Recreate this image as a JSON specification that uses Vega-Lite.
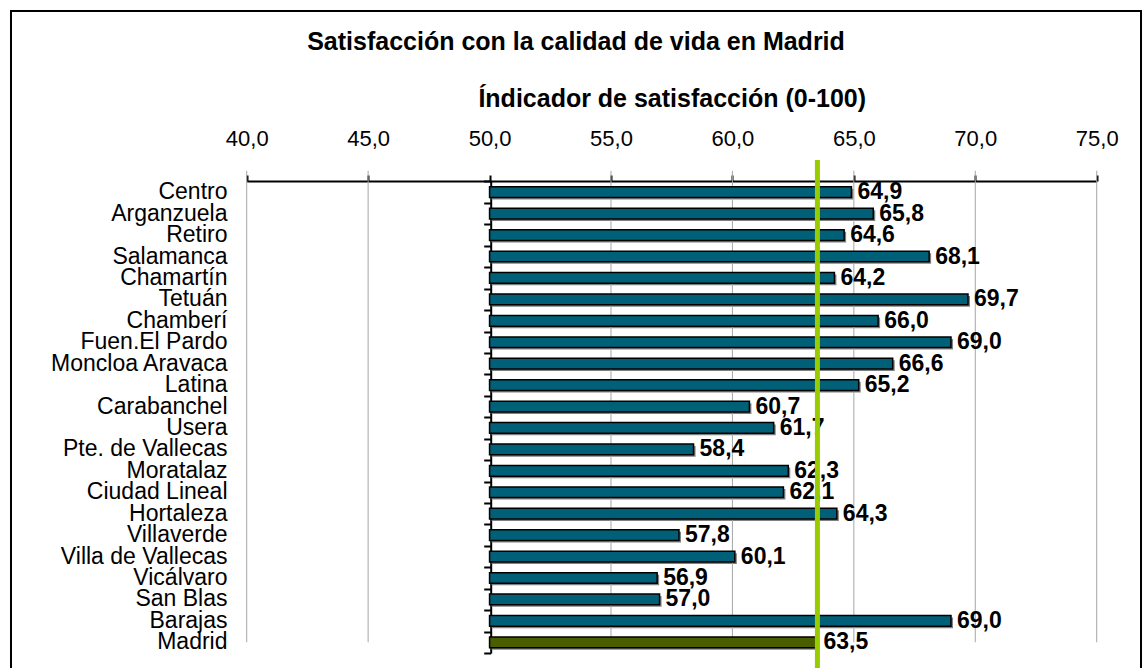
{
  "$schema": "https://vega.github.io/schema/vega-lite/v6.json",
  "width": 1130,
  "height": 662,
  "autosize": "none",
  "padding": {"left": 11, "top": 11, "right": 2, "bottom": 0},
  "config": {
    "view": {"stroke": "black", "strokeWidth": 2},
    "font": "Liberation Sans",
    "locale": {"number": {"decimal": ",", "thousands": ".", "grouping": [3], "currency": ["", " €"]}}
  },
  "title": {
    "text": "Satisfacción con la calidad de vida en Madrid",
    "anchor": "middle",
    "frame": "bounds",
    "offset": -56,
    "baseline": "middle",
    "fontSize": 25,
    "fontWeight": "bold",
    "font": "Liberation Sans",
    "color": "black"
  },
  "datasets": {
    "grid": [{"v": 40}, {"v": 45}, {"v": 55}, {"v": 60}, {"v": 65}, {"v": 70}, {"v": 75}]
  },
  "data": {
    "values": [
      {"distrito": "Centro", "valor": 64.9, "tipo": "distrito"},
      {"distrito": "Arganzuela", "valor": 65.8, "tipo": "distrito"},
      {"distrito": "Retiro", "valor": 64.6, "tipo": "distrito"},
      {"distrito": "Salamanca", "valor": 68.1, "tipo": "distrito"},
      {"distrito": "Chamartín", "valor": 64.2, "tipo": "distrito"},
      {"distrito": "Tetuán", "valor": 69.7, "tipo": "distrito"},
      {"distrito": "Chamberí", "valor": 66.0, "tipo": "distrito"},
      {"distrito": "Fuen.El Pardo", "valor": 69.0, "tipo": "distrito"},
      {"distrito": "Moncloa Aravaca", "valor": 66.6, "tipo": "distrito"},
      {"distrito": "Latina", "valor": 65.2, "tipo": "distrito"},
      {"distrito": "Carabanchel", "valor": 60.7, "tipo": "distrito"},
      {"distrito": "Usera", "valor": 61.7, "tipo": "distrito"},
      {"distrito": "Pte. de Vallecas", "valor": 58.4, "tipo": "distrito"},
      {"distrito": "Moratalaz", "valor": 62.3, "tipo": "distrito"},
      {"distrito": "Ciudad Lineal", "valor": 62.1, "tipo": "distrito"},
      {"distrito": "Hortaleza", "valor": 64.3, "tipo": "distrito"},
      {"distrito": "Villaverde", "valor": 57.8, "tipo": "distrito"},
      {"distrito": "Villa de Vallecas", "valor": 60.1, "tipo": "distrito"},
      {"distrito": "Vicálvaro", "valor": 56.9, "tipo": "distrito"},
      {"distrito": "San Blas", "valor": 57.0, "tipo": "distrito"},
      {"distrito": "Barajas", "valor": 69.0, "tipo": "distrito"},
      {"distrito": "Madrid", "valor": 63.5, "tipo": "total"}
    ]
  },
  "resolve": {"axis": {"y": "independent"}},
  "layer": [
    {
      "mark": {"type": "bar", "height": {"band": 0.5}, "fill": "#808080", "xOffset": 2, "x2Offset": 2, "yOffset": 2, "y2Offset": 2},
      "encoding": {
        "x": {
          "field": "valor", "type": "quantitative",
          "scale": {"domain": [40, 75], "range": [235.7, 1085.7], "nice": false, "zero": false},
          "axis": {
            "orient": "top", "offset": -170, "values": [40, 45, 50, 55, 60, 65, 70, 75], "format": ".1f",
            "title": "Índicador de satisfacción (0-100)", "titleFontSize": 25, "titleFontWeight": "bold", "titleColor": "black", "titlePadding": 16,
            "labelFontSize": 22, "labelColor": "black", "labelPadding": 25, "labelOverlap": false, "labelFlush": false,
            "tickSize": 6, "tickColor": "black", "tickWidth": 2, "domainColor": "black", "domainWidth": 2,
            "grid": false
          }
        },
        "x2": {"datum": 50},
        "y": {
          "field": "distrito", "type": "nominal", "sort": null,
          "scale": {"range": [170.5, 642], "paddingInner": 0, "paddingOuter": 0},
          "axis": {"orient": "left", "offset": -479.7, "labels": false, "domain": true, "domainColor": "black", "domainWidth": 2, "ticks": true, "tickSize": 7, "tickColor": "black", "tickWidth": 2, "tickBand": "extent", "grid": false, "title": null}
        }
      }
    },
    {
      "data": {"name": "grid"},
      "mark": {"type": "tick", "orient": "vertical", "size": 471.5, "thickness": 1, "color": "#a6a6a6", "opacity": 1},
      "encoding": {
        "x": {"field": "v", "type": "quantitative"},
        "y": {"datum": "Carabanchel", "type": "nominal", "bandPosition": 1, "axis": null}
      }
    },
    {
      "mark": {"type": "bar", "height": {"band": 0.5}, "stroke": "black", "strokeWidth": 1.5},
      "encoding": {
        "x": {"field": "valor", "type": "quantitative"},
        "x2": {"datum": 50},
        "y": {
          "field": "distrito", "type": "nominal", "sort": null,
          "axis": {"orient": "left", "offset": -216, "domain": false, "ticks": false, "tickSize": 0, "labelPadding": 0, "labelFontSize": 23, "labelColor": "black", "labelLimit": 400, "labelOverlap": false, "grid": false, "title": null}
        },
        "fill": {"field": "tipo", "type": "nominal", "scale": {"domain": ["distrito", "total"], "range": ["#006078", "#4a5e00"]}, "legend": null}
      }
    },
    {
      "mark": {"type": "text", "align": "left", "baseline": "middle", "dx": 6, "fontSize": 23, "fontWeight": "bold", "color": "black"},
      "encoding": {
        "x": {"field": "valor", "type": "quantitative"},
        "y": {"field": "distrito", "type": "nominal", "sort": null, "axis": null},
        "text": {"field": "valor", "type": "quantitative", "format": ".1f"}
      }
    },
    {
      "transform": [{"filter": "datum.tipo === 'total'"}],
      "mark": {"type": "rule", "color": "#99cc00", "strokeWidth": 5},
      "encoding": {
        "x": {"field": "valor", "type": "quantitative"},
        "y": {"datum": "Centro", "type": "nominal", "bandPosition": -1, "axis": null},
        "y2": {"datum": "Madrid", "bandPosition": 2}
      }
    }
  ]
}
